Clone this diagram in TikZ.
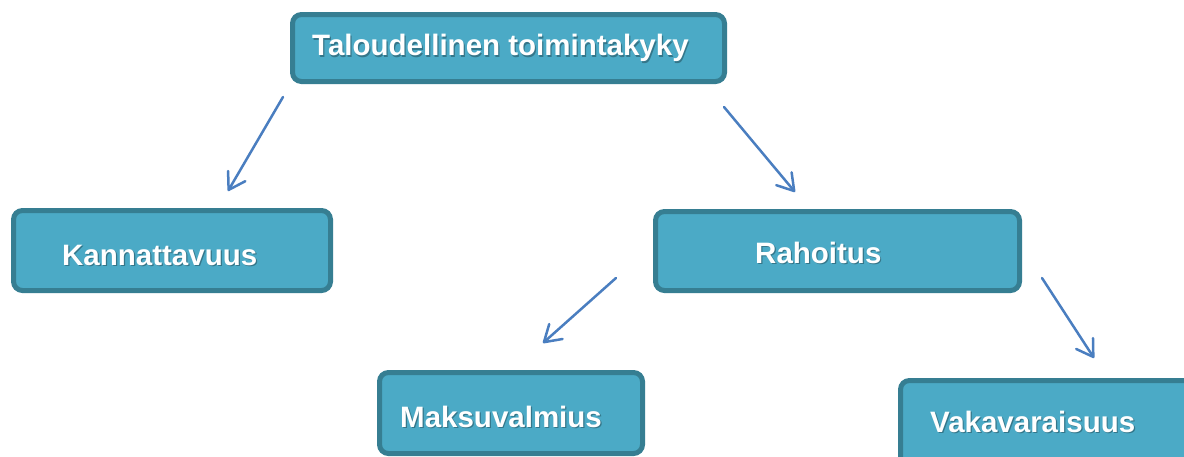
\documentclass[tikz,border=0pt]{standalone}
\usepackage{fontspec}
\setmainfont{Liberation Sans}
\usetikzlibrary{arrows.meta}
\definecolor{boxfill}{HTML}{4BAAC6}
\definecolor{boxline}{HTML}{367E92}
\definecolor{arrowblue}{HTML}{4A7EC0}
\tikzset{
  box/.style={draw=boxline, fill=boxfill, line width=5pt, rounded corners=9pt, inner sep=0pt},
  lbl/.style={anchor=base west, inner sep=0pt, text=white, font=\fontsize{29.5}{29.5}\selectfont\bfseries},
  lblshadow/.style={anchor=base west, inner sep=0pt, text=black, opacity=0.3, font=\fontsize{29.5}{29.5}\selectfont\bfseries},
  conn/.style={draw=arrowblue, line width=2.5pt, line cap=round, -{Straight Barb[length=16pt,width=20pt,line width=2.5pt,round]}}
}
\begin{document}
\begin{tikzpicture}[x=1pt,y=-1pt]
\useasboundingbox (0,0) rectangle (1184,456);
\clip (0,0) rectangle (1184,456);
\fill[white] (0,0) rectangle (1184,456);
% boxes
\node[box, minimum width=432pt, minimum height=67pt] (top) at (508.5,48) {};
\node[box, minimum width=317pt, minimum height=80pt] (kan) at (172,250.5) {};
\node[box, minimum width=364pt, minimum height=79pt] (rah) at (837.5,251) {};
\node[box, minimum width=263pt, minimum height=81pt] (mak) at (511,413) {};
\node[box, minimum width=299.5pt, minimum height=99.5pt] (vak) at (1050.25,430.25) {};
% label shadows
\node[lblshadow] (topS) at (313.2,57) {Taloudellinen toimintakyky};
\node[lblshadow] (kanS) at (63.2,266.5) {Kannattavuus};
\node[lblshadow] (rahS) at (756.2,264.5) {Rahoitus};
\node[lblshadow] (makS) at (401.2,428.5) {Maksuvalmius};
\node[lblshadow] (vakS) at (931.2,433.5) {Vakavaraisuus};
% labels
\node[lbl] (topT) at (312,55.5) {Taloudellinen toimintakyky};
\node[lbl] (kanT) at (62,265) {Kannattavuus};
\node[lbl] (rahT) at (755,263) {Rahoitus};
\node[lbl] (makT) at (400,427) {Maksuvalmius};
\node[lbl] (vakT) at (930,432) {Vakavaraisuus};
% connector ends
\coordinate (a1s) at (283,97);
\coordinate (a1e) at (228,191);
\coordinate (a2s) at (724,107);
\coordinate (a2e) at (795,192);
\coordinate (a3s) at (616,278);
\coordinate (a3e) at (543,343);
\coordinate (a4s) at (1042,278);
\coordinate (a4e) at (1094,358);
\draw[conn] (a1s) -- (a1e);
\draw[conn] (a2s) -- (a2e);
\draw[conn] (a3s) -- (a3e);
\draw[conn] (a4s) -- (a4e);
\end{tikzpicture}
\end{document}
